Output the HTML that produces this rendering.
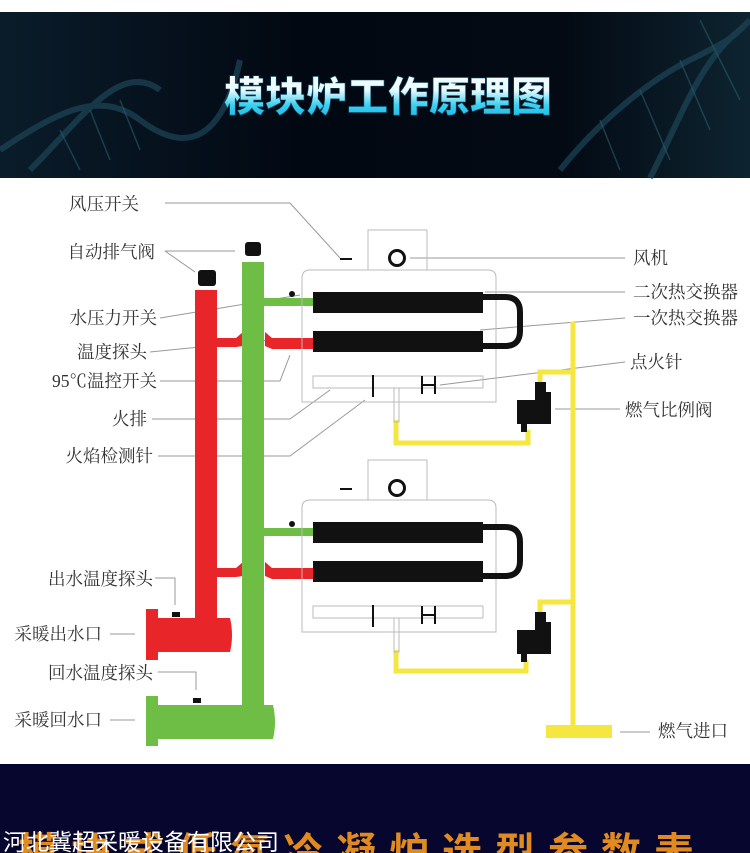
<!DOCTYPE html>
<html><head><meta charset="utf-8"><style>
html,body{margin:0;padding:0;background:#fff;width:750px;height:853px;overflow:hidden}
svg{display:block}
.l{font-family:"Liberation Serif","Noto Serif CJK SC",serif;font-size:17.5px;fill:#333}
.ln{stroke:#999;stroke-width:1;fill:none}
.bx{stroke:#bbb;stroke-width:1;fill:none}
</style></head><body>
<svg width="750" height="853" viewBox="0 0 750 853" xmlns="http://www.w3.org/2000/svg">
<defs>
<linearGradient id="hd" x1="0" y1="0" x2="1" y2="0"><stop offset="0" stop-color="#0a1c2a"/><stop offset="0.4" stop-color="#020812"/><stop offset="0.75" stop-color="#030a14"/><stop offset="1" stop-color="#0d2430"/></linearGradient>
<linearGradient id="tt" x1="0" y1="0" x2="0" y2="1"><stop offset="0" stop-color="#fff"/><stop offset="0.45" stop-color="#e8fbff"/><stop offset="0.7" stop-color="#3cd0f0"/><stop offset="1" stop-color="#10b0e0"/></linearGradient>
</defs>
<rect x="0" y="12" width="750" height="166" fill="url(#hd)"/>
<g stroke="#1d4658" stroke-width="6" fill="none" opacity="0.7">
<path d="M0 150 C60 110 100 90 140 120 S220 150 240 60"/>
<path d="M30 170 C80 120 120 60 160 90"/>
<path d="M560 170 C600 120 650 80 690 60 S730 40 750 20"/>
<path d="M650 178 C680 120 700 60 740 30"/>
</g>
<g stroke="#2a5a6a" stroke-width="1.5" opacity="0.6">
<line x1="60" y1="130" x2="80" y2="170"/><line x1="90" y1="110" x2="110" y2="160"/><line x1="120" y1="100" x2="140" y2="150"/>
<line x1="600" y1="120" x2="620" y2="170"/><line x1="640" y1="90" x2="670" y2="160"/><line x1="680" y1="60" x2="710" y2="130"/><line x1="700" y1="20" x2="740" y2="100"/>
</g>
<text x="388" y="111" text-anchor="middle" font-family="'Noto Sans CJK SC',sans-serif" font-weight="900" font-size="41" fill="url(#tt)" stroke="#0a4a6a" stroke-width="0.6">模块炉工作原理图</text>

<g class="l" text-anchor="end">
<text x="139" y="210">风压开关</text>
<text x="155" y="258">自动排气阀</text>
<text x="157" y="324">水压力开关</text>
<text x="147" y="358">温度探头</text>
<text x="157" y="387">95℃温控开关</text>
<text x="147" y="425">火排</text>
<text x="153" y="462">火焰检测针</text>
<text x="153" y="585">出水温度探头</text>
<text x="102" y="640">采暖出水口</text>
<text x="153" y="679">回水温度探头</text>
<text x="102" y="726">采暖回水口</text>
</g>
<g class="l">
<text x="633" y="264">风机</text>
<text x="633" y="298">二次热交换器</text>
<text x="633" y="324">一次热交换器</text>
<text x="630" y="368">点火针</text>
<text x="625" y="416">燃气比例阀</text>
<text x="658" y="737">燃气进口</text>
</g>
<g class="ln">
<polyline points="165,203 290,203 340,258"/>
<polyline points="165,251 235,251"/>
<polyline points="165,251 195,272"/>
<polyline points="160,318 300,295"/>
<polyline points="150,352 270,340"/>
<polyline points="160,381 280,381 290,355"/>
<polyline points="152,419 290,419 330,390"/>
<polyline points="158,456 290,456 365,400"/>
<polyline points="155,578 175,578 175,605"/>
<polyline points="110,634 135,634"/>
<polyline points="158,672 196,672 196,690"/>
<polyline points="110,720 135,720"/>
<polyline points="410,258 625,258"/>
<polyline points="485,292 625,292"/>
<polyline points="480,330 625,318"/>
<polyline points="440,385 625,362"/>
<polyline points="555,409 620,409"/>
<polyline points="620,732 650,732"/>
</g>

<g fill="#e8262a">
<rect x="195" y="290" width="22" height="330"/>
<rect x="146" y="609" width="12" height="51"/>
<path d="M157 618 H230 Q234 635 230 652 H157 Z"/>
<path d="M217 338 H236 L243 332 V346 L236 347 H217 Z"/>
<path d="M265 332 L272 338 H314 V349 H272 L265 346 Z"/>
<path d="M217 568 H236 L243 562 V576 L236 577 H217 Z"/>
<path d="M265 562 L272 568 H314 V579 H272 L265 576 Z"/>
</g>
<g fill="#6ebe45">
<rect x="242" y="262" width="22" height="445"/>
<rect x="146" y="696" width="12" height="50"/>
<path d="M157 705 H273 Q277 722 273 739 H157 Z"/>
<rect x="264" y="298" width="50" height="8"/>
<rect x="264" y="528" width="50" height="8"/>
</g>
<g fill="#111">
<rect x="198" y="270" width="18" height="16" rx="3"/>
<rect x="245" y="242" width="16" height="14" rx="3"/>
<circle cx="292" cy="294" r="3"/><circle cx="292" cy="524" r="3"/>
<rect x="172" y="612" width="8" height="5"/><rect x="193" y="698" width="8" height="5"/>
<rect x="340" y="258" width="12" height="2"/><rect x="340" y="488" width="12" height="2"/>
</g>

<g fill="none" stroke="#f5e640" stroke-width="5">
<line x1="573" y1="322" x2="573" y2="730"/>
<polyline points="396,420 396,443 528,443 528,430"/>
<polyline points="540,382 540,372 573,372"/>
<polyline points="396,650 396,671 526,671 526,660"/>
<polyline points="540,612 540,602 573,602"/>
</g>
<rect x="546" y="725" width="66" height="13" fill="#f5e640"/>

<g id="m">
<rect class="bx" x="368" y="230" width="59" height="40"/>
<path class="bx" d="M302 402 V278 Q302 270 310 270 H488 Q496 270 496 278 V402 Z"/>
<circle cx="397" cy="258" r="7.5" fill="none" stroke="#111" stroke-width="3"/>
<rect x="313" y="292" width="170" height="21" fill="#111"/>
<rect x="313" y="331" width="170" height="21" fill="#111"/>
<path d="M483 297 H505 Q520 297 520 312 V331 Q520 346 505 346 H483" fill="none" stroke="#111" stroke-width="6"/>
<rect class="bx" x="313" y="376" width="170" height="12"/>
<line x1="313" y1="376" x2="483" y2="376" stroke="#bbb" stroke-dasharray="4,3"/>
<rect class="bx" x="394" y="388" width="5" height="34"/>
<line x1="373" y1="375" x2="373" y2="397" stroke="#111" stroke-width="2"/>
<line x1="422" y1="376" x2="422" y2="394" stroke="#111" stroke-width="2"/>
<line x1="435" y1="376" x2="435" y2="394" stroke="#111" stroke-width="2"/>
<line x1="422" y1="385" x2="435" y2="385" stroke="#111" stroke-width="2"/>
<path d="M535 382 H546 V392 H551 V424 H527 V432 H521 V424 H517 V400 H535 Z" fill="#111"/>
</g>
<use href="#m" transform="translate(0,230)"/>

<rect x="0" y="764" width="750" height="89" fill="#06062e"/>
<text x="18" y="866" font-family="'Noto Sans CJK SC',sans-serif" font-weight="700" font-size="40" fill="#e08a20" letter-spacing="13">模块式低氮冷凝炉选型参数表</text>
<text x="3" y="850" font-family="'Noto Sans CJK SC',sans-serif" font-size="23" fill="#fff">河北冀超采暖设备有限公司</text>
</svg>
</body></html>
